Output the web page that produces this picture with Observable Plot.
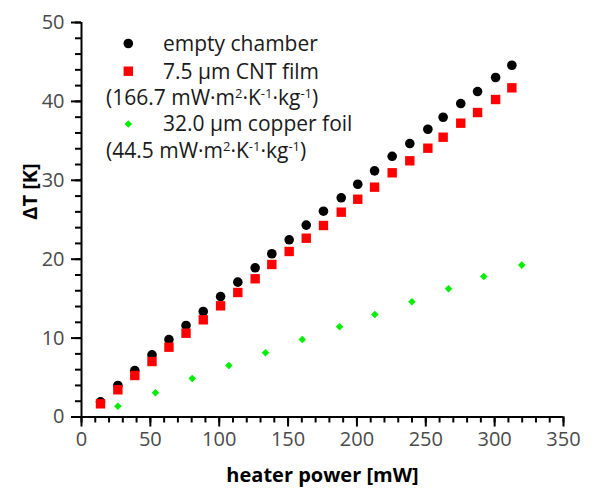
<!DOCTYPE html>
<html>
<head>
<meta charset="utf-8">
<script src="https://cdn.jsdelivr.net/npm/d3@7"></script>
<script src="https://cdn.jsdelivr.net/npm/@observablehq/plot@0.6"></script>
<style>
  html, body { margin: 0; padding: 0; background: #fff; }
  #chart svg { display: block; }
  #chart g[aria-label="x-axis tick label"] text,
  #chart g[aria-label="y-axis tick label"] text { fill: #4a4a4a; }
</style>
</head>
<body>
<div id="chart"></div>
<script>
// heater power [mW] for the empty chamber and the CNT film (shared)
const powerA = [13.8, 26.4, 38.7, 51.2, 63.5, 75.9, 88.4, 101.0, 113.5, 126.1, 138.2, 150.8, 163.2,
                175.7, 188.6, 200.6, 212.8, 225.6, 238.4, 251.5, 262.6, 275.4, 287.6, 300.7, 312.5];
// ΔT [K], empty chamber
const emptyChamber = [1.93, 3.99, 5.89, 7.87, 9.82, 11.6, 13.37, 15.27, 17.09, 18.91, 20.69, 22.46, 24.32,
                      26.08, 27.78, 29.5, 31.2, 33.04, 34.66, 36.47, 37.99, 39.73, 41.25, 43.03, 44.58];
// ΔT [K], 7.5 µm CNT film
const cntFilm = [1.67, 3.45, 5.26, 7.03, 8.85, 10.62, 12.32, 14.09, 15.78, 17.52, 19.33, 20.98, 22.66,
                 24.27, 25.96, 27.6, 29.13, 30.95, 32.47, 34.07, 35.46, 37.24, 38.59, 40.24, 41.72];
// heater power [mW] and ΔT [K], 32.0 µm copper foil
const powerCu = [26.4, 53.7, 80.4, 107.0, 133.6, 160.3, 187.4, 213.0, 239.9, 266.5, 292.1, 319.7];
const copperFoil = [1.37, 3.07, 4.88, 6.53, 8.14, 9.82, 11.43, 12.99, 14.6, 16.25, 17.81, 19.25];

const xMajor = [0, 50, 100, 150, 200, 250, 300, 350];
const xMinor = d3.range(0, 351, 10);
const yMajor = [0, 10, 20, 30, 40, 50];
const yMinor = d3.range(0, 51, 2);

const seriesNames = ["empty chamber", "7.5 µm CNT film", "32.0 µm copper foil"];
const seriesColors = ["#000000", "#ff0000", "#00ee00"];

const dataA = powerA.map((p, i) => ({p, e: emptyChamber[i], c: cntFilm[i]}));
const dataCu = powerCu.map((p, i) => ({p, t: copperFoil[i]}));

const chart = Plot.plot({
  width: 606,
  height: 488,
  marginLeft: 81,
  marginRight: 43,
  marginTop: 22,
  marginBottom: 71.5,
  x: {domain: [0, 350]},
  y: {domain: [0, 50]},
  style: {fontFamily: "'Open Sans', sans-serif", fontSize: "20px", background: "#fff", color: "#000"},
  marks: [
    Plot.axisX({ticks: xMinor, tickSize: 6, text: null, strokeWidth: 2, label: null}),
    Plot.axisX({ticks: xMajor, tickSize: 10, tickPadding: 5, strokeWidth: 2, label: null}),
    Plot.axisY({ticks: yMinor, tickSize: 6, text: null, strokeWidth: 2, label: null}),
    Plot.axisY({ticks: yMajor, tickSize: 10, tickPadding: 7, strokeWidth: 2, label: null}),
    Plot.ruleY([0], {strokeWidth: 2}),
    Plot.ruleX([0], {strokeWidth: 2}),
    Plot.text(["heater power [mW]"], {frameAnchor: "bottom", dy: 65, fontWeight: "bold", fontSize: 20, fill: "#000"}),
    Plot.text(["ΔT [K]"], {frameAnchor: "left", dx: -51, rotate: -90, fontWeight: "bold", fontSize: 20, fill: "#000"}),
    Plot.dot(dataA, {x: "p", y: "e", r: 4.8, fill: seriesColors[0], symbol: "circle"}),
    Plot.dot(dataA, {x: "p", y: "c", r: 5.3, fill: seriesColors[1], symbol: "square"}),
    Plot.dot(dataCu, {x: "p", y: "t", r: 3.4, fill: seriesColors[2], symbol: "diamond2"})
  ]
});
document.getElementById("chart").appendChild(chart);

// legend inside the plot area
const svg = d3.select(chart);
const lg = svg.append("g")
  .attr("font-family", "'Open Sans', sans-serif")
  .attr("font-size", 21)
  .attr("fill", "#1a1a1a")
  .attr("text-anchor", "start");
const symX = 128.3;
lg.append("circle").attr("cx", symX).attr("cy", 43.5).attr("r", 4.8).attr("fill", seriesColors[0]);
lg.append("rect").attr("x", symX - 4.7).attr("y", 66.5).attr("width", 9.4).attr("height", 9.4).attr("fill", seriesColors[1]);
lg.append("path").attr("d", d3.symbol(d3.symbolDiamond2, Math.PI * 3.4 * 3.4)()).attr("transform", `translate(${symX},124)`).attr("fill", seriesColors[2]);
lg.append("text").attr("x", 163).attr("y", 50.5).text(seriesNames[0]);
lg.append("text").attr("x", 163).attr("y", 78.5).text(seriesNames[1]);
lg.append("text").attr("x", 163).attr("y", 131).text(seriesNames[2]);

function unitLine(y, value) {
  const t = lg.append("text").attr("x", 106).attr("y", y);
  t.append("tspan").text("(" + value + " mW·m");
  t.append("tspan").attr("font-size", 13).attr("dy", -7).text("2");
  t.append("tspan").attr("dy", 7).text("·K");
  t.append("tspan").attr("font-size", 13).attr("dy", -7).text("-1");
  t.append("tspan").attr("dy", 7).text("·kg");
  t.append("tspan").attr("font-size", 13).attr("dy", -7).text("-1");
  t.append("tspan").attr("dy", 7).text(")");
}
unitLine(105, "166.7");
unitLine(158, "44.5");
</script>
</body>
</html>
